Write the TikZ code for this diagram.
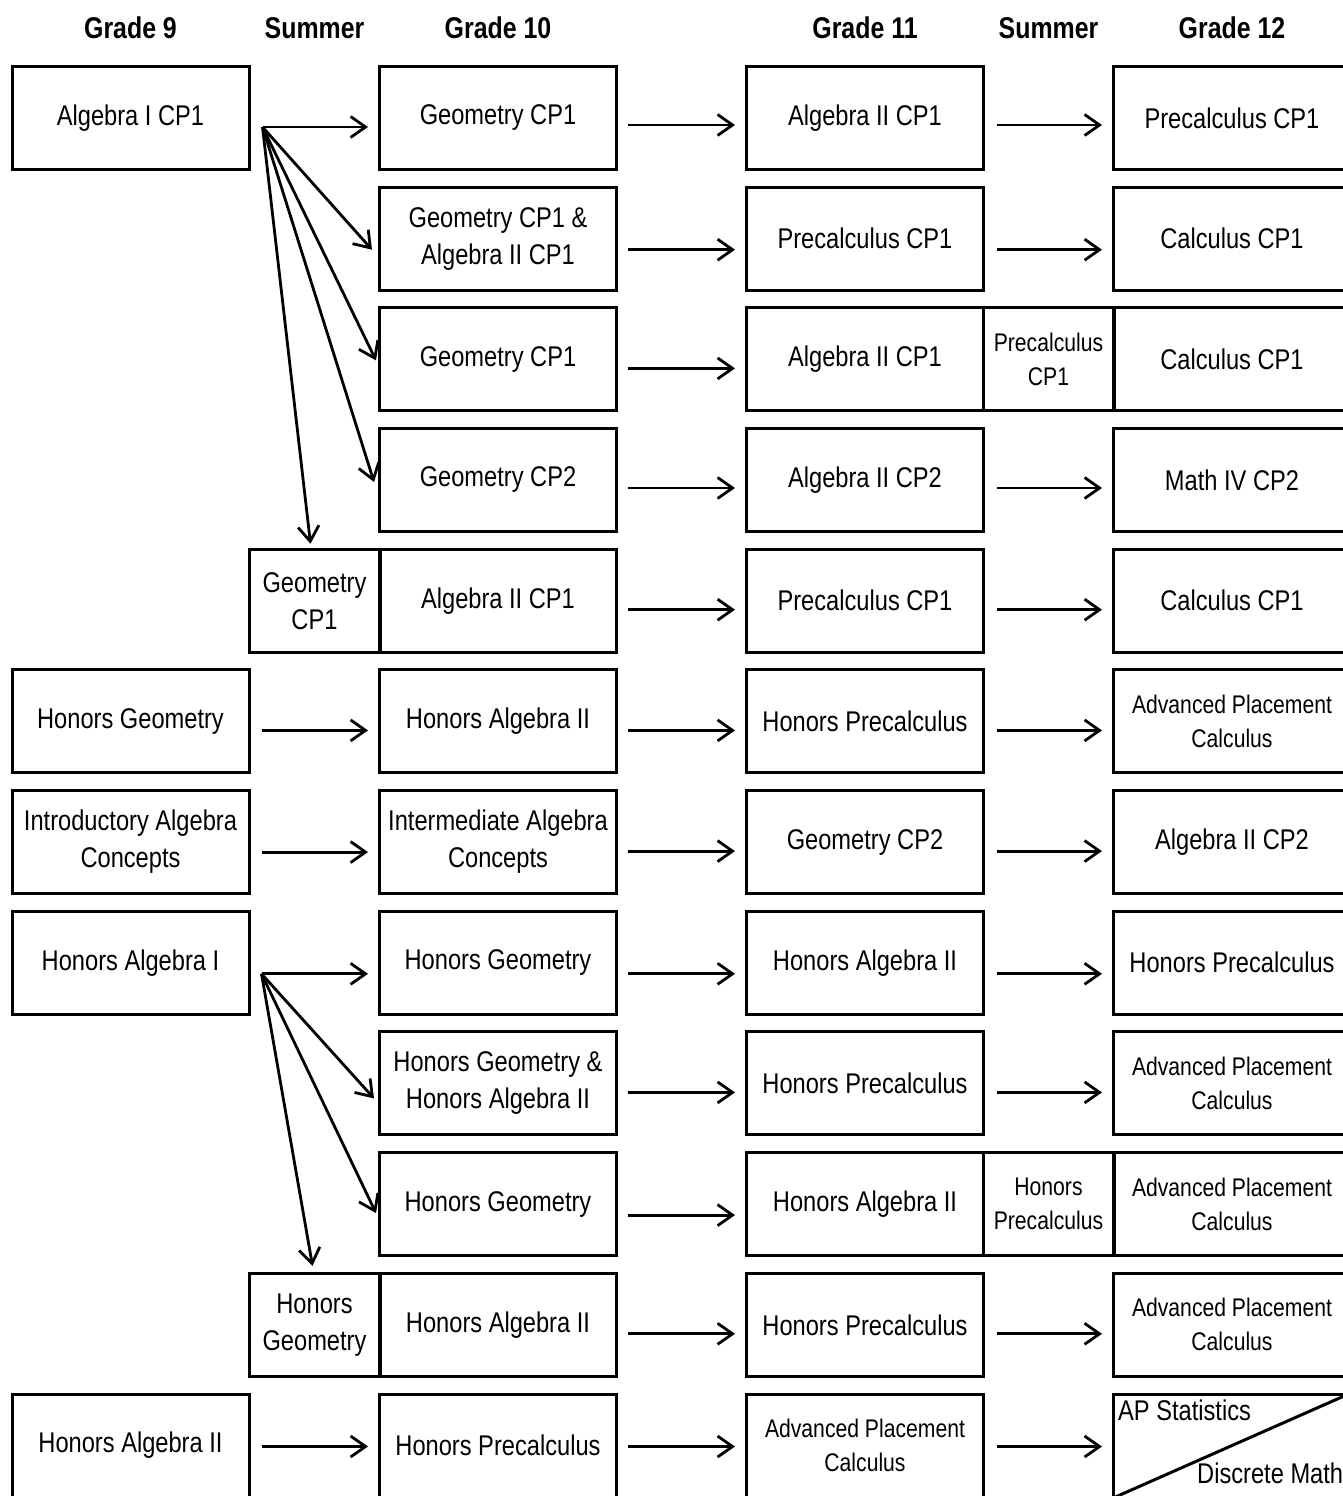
\documentclass[tikz,border=0pt]{standalone}
\usepackage{fontspec}
\setmainfont{Liberation Sans}[FakeStretch=0.83]
\usetikzlibrary{arrows.meta}
\newcommand\fnorm{\fontsize{28.5}{37}\selectfont}
\newcommand\fsml{\fontsize{25.5}{34}\selectfont}
\newcommand\fhead{\bfseries\fontsize{30}{36}\selectfont}
\begin{document}
\begin{tikzpicture}[x=1pt,y=-1pt,
  box/.style={draw, line width=3pt, minimum width=237pt, minimum height=103pt, inner sep=0pt, align=center, font=\fnorm},
  sbox/.style={box, minimum width=131pt},
  sm/.style={font=\fsml},
  head/.style={font=\fhead, inner sep=0pt},
  arr/.style={line width=2.8pt, -{Straight Barb[length=15pt,width=21pt]}},
  harr/.style={arr, shorten <=11pt, shorten >=10pt}]
\useasboundingbox (0,0) rectangle (1343,1496);
% headers
\node[head] (h9) at (130.5,28) {Grade 9};
\node[head] (hs1) at (314.5,28) {Summer};
\node[head] (h10) at (498,28) {Grade 10};
\node[head] (h11) at (865,28) {Grade 11};
\node[head] (hs2) at (1048.5,28) {Summer};
\node[head] (h12) at (1232,28) {Grade 12};
% row 1
\node[box] (a1) at (130.5,118) {Algebra I CP1};
\node[box] (b1) at (498,118) {Geometry CP1};
\node[box] (c1) at (865,118) {Algebra II CP1};
\node[box] (d1) at (1232,118) {Precalculus CP1};
% row 2
\node[box] (b2) at (498,238.7) {Geometry CP1 \&\\Algebra II CP1};
\node[box] (c2) at (865,238.7) {Precalculus CP1};
\node[box] (d2) at (1232,238.7) {Calculus CP1};
% row 3
\node[box] (b3) at (498,359.4) {Geometry CP1};
\node[box] (c3) at (865,359.4) {Algebra II CP1};
\node[sbox,sm] (s3) at (1048.5,359.4) {Precalculus\\CP1};
\node[box] (d3) at (1232,359.4) {Calculus CP1};
% row 4
\node[box] (b4) at (498,480) {Geometry CP2};
\node[box] (c4) at (865,480) {Algebra II CP2};
\node[box] (d4) at (1232,480) {Math IV CP2};
% row 5
\node[sbox] (s5) at (314.5,600.7) {Geometry\\CP1};
\node[box] (b5) at (498,600.7) {Algebra II CP1};
\node[box] (c5) at (865,600.7) {Precalculus CP1};
\node[box] (d5) at (1232,600.7) {Calculus CP1};
% row 6
\node[box] (a6) at (130.5,721.4) {Honors Geometry};
\node[box] (b6) at (498,721.4) {Honors Algebra II};
\node[box] (c6) at (865,721.4) {Honors Precalculus};
\node[box,sm] (d6) at (1232,721.4) {Advanced Placement\\Calculus};
% row 7
\node[box] (a7) at (130.5,842.1) {Introductory Algebra\\Concepts};
\node[box] (b7) at (498,842.1) {Intermediate Algebra\\Concepts};
\node[box] (c7) at (865,842.1) {Geometry CP2};
\node[box] (d7) at (1232,842.1) {Algebra II CP2};
% row 8
\node[box] (a8) at (130.5,962.8) {Honors Algebra I};
\node[box] (b8) at (498,962.8) {Honors Geometry};
\node[box] (c8) at (865,962.8) {Honors Algebra II};
\node[box] (d8) at (1232,962.8) {Honors Precalculus};
% row 9
\node[box] (b9) at (498,1083.4) {Honors Geometry \&\\Honors Algebra II};
\node[box] (c9) at (865,1083.4) {Honors Precalculus};
\node[box,sm] (d9) at (1232,1083.4) {Advanced Placement\\Calculus};
% row 10
\node[box] (b10) at (498,1204.1) {Honors Geometry};
\node[box] (c10) at (865,1204.1) {Honors Algebra II};
\node[sbox,sm] (s10) at (1048.5,1204.1) {Honors\\Precalculus};
\node[box,sm] (d10) at (1232,1204.1) {Advanced Placement\\Calculus};
% row 11
\node[sbox] (s11) at (314.5,1324.8) {Honors\\Geometry};
\node[box] (b11) at (498,1324.8) {Honors Algebra II};
\node[box] (c11) at (865,1324.8) {Honors Precalculus};
\node[box,sm] (d11) at (1232,1324.8) {Advanced Placement\\Calculus};
% row 12
\node[box] (a12) at (130.5,1445.5) {Honors Algebra II};
\node[box] (b12) at (498,1445.5) {Honors Precalculus};
\node[box,sm] (c12) at (865,1445.5) {Advanced Placement\\Calculus};
\node[box] (d12) at (1232,1445.5) {};
\draw[line width=3pt] (d12.south west) -- (d12.north east);
\node[font=\fnorm, inner sep=0pt, anchor=base west] (ap) at ([xshift=6pt,yshift=-28pt]d12.north west) {AP Statistics};
\node[font=\fnorm, inner sep=0pt, anchor=base west] (dm) at ([xshift=85pt,yshift=15pt]d12.south west) {Discrete Math};
% fans
\coordinate (f1) at ([xshift=12pt,yshift=-9pt]a1.east);
\draw[arr, shorten >=10pt] (f1) -- (f1 -| b1.west);
\draw[arr] (f1) -- ([xshift=-6pt,yshift=-11pt]b2.west);
\draw[arr] (f1) -- ([xshift=-2pt,yshift=-1pt]b3.west);
\draw[arr] (f1) -- ([xshift=-4pt,yshift=-2pt]b4.west);
\draw[arr] (f1) -- ([xshift=-4pt,yshift=4pt]s5.north);
\coordinate (f8) at ([xshift=11pt,yshift=-11pt]a8.east);
\draw[arr, shorten >=10pt] (f8) -- (f8 -| b8.west);
\draw[arr] (f8) -- ([xshift=-4pt,yshift=-15pt]b9.west);
\draw[arr] (f8) -- ([xshift=-2pt,yshift=-9pt]b10.west);
\draw[arr] (f8) -- ([xshift=-2pt,yshift=6pt]s11.north);
% grade 9 -> 10
\draw[harr] ([yshift=-9pt]a6.east) -- ([yshift=-9pt]b6.west);
\draw[harr] ([yshift=-10pt]a7.east) -- ([yshift=-10pt]b7.west);
\draw[harr] ([yshift=-1pt]a12.east) -- ([yshift=-1pt]b12.west);
% grade 10 -> 11
\foreach \r/\o in {1/7,2/11,3/9,4/8,5/9,6/9,7/9,8/11,9/9,10/11,11/9,12/1}{
  \draw[harr, shorten <=10pt] ([yshift=-\o pt]b\r.east) -- ([yshift=-\o pt]c\r.west);
}
% grade 11 -> 12
\foreach \r/\o in {1/7,2/11,4/8,5/9,6/9,7/9,8/11,9/9,11/9,12/1}{
  \draw[harr, shorten <=12pt] ([yshift=-\o pt]c\r.east) -- ([yshift=-\o pt]d\r.west);
}
\end{tikzpicture}
\end{document}
